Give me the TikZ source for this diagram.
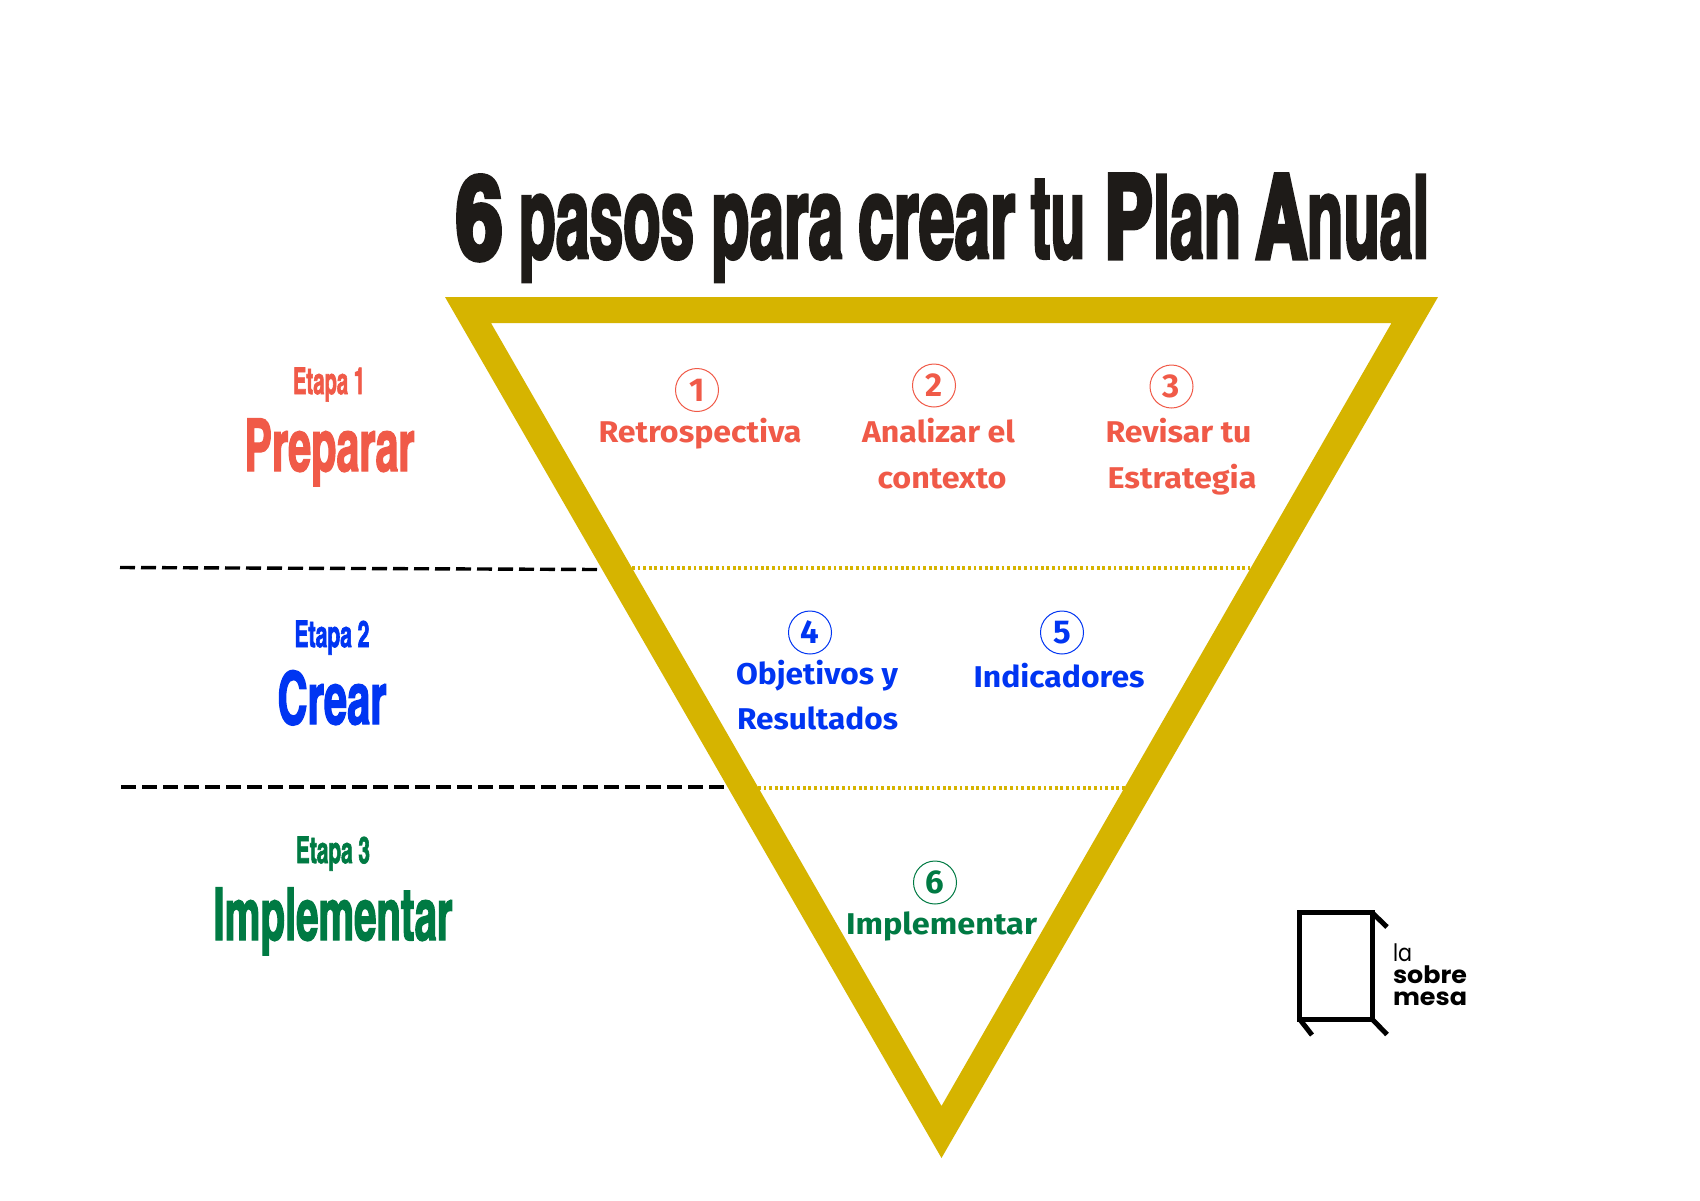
\documentclass[tikz,border=0pt]{standalone}
\usepackage{graphicx}
\usepackage{fontspec}
\setmainfont{Liberation Sans}
\newfontfamily\cond[FakeStretch=0.8,FakeBold=1.8]{TeX Gyre Heros Cn Bold}
\newfontfamily\condt[FakeStretch=0.8,FakeBold=2.4]{TeX Gyre Heros Cn Bold}
\newfontfamily\condx[FakeStretch=0.95,FakeBold=4.5]{TeX Gyre Heros Cn Bold}
\newfontfamily\body{Fira Sans}[BoldFont={Fira Sans Bold}]
\newfontfamily\logof{Poppins}
\definecolor{gold}{HTML}{D6B400}
\definecolor{redc}{HTML}{F05A48}
\definecolor{bluec}{HTML}{0035F2}
\definecolor{greenc}{HTML}{007A43}
\definecolor{inkc}{HTML}{1E1B18}
\newsavebox\fb
\newcommand\fitx[2]{\sbox\fb{#2}\pgfmathsetmacro\fr{#1pt/\the\wd\fb}\scalebox{\fr}[1]{\usebox\fb}}
\tikzset{
 lbl/.style={anchor=base,inner sep=0pt,outer sep=0pt},
 num/.style={circle,draw,line width=1pt,minimum size=43pt,inner sep=0pt,font=\body\bfseries\fontsize{33}{33}\selectfont},
 step label/.style={lbl,font=\body\bfseries\fontsize{30}{30}\selectfont},
 etapa/.style={lbl,font=\cond\fontsize{37}{37}\selectfont},
 stage/.style={lbl,font=\cond\fontsize{73}{73}\selectfont},
 divider/.style={black,line width=3.4pt,dash pattern=on 15pt off 6pt},
 dots/.style={gold,line width=3.2pt,dash pattern=on 2.8pt off 2.8pt},
 logoline/.style={black,line width=5pt,line join=miter},
}
\begin{document}
\begin{tikzpicture}[x=1pt,y=-1pt]
\useasboundingbox (0,0) rectangle (1700,1200);
\fill[white] (0,0) rectangle (1700,1200);
% title
\node[lbl,anchor=base west,text=inkc,font=\condt\fontsize{116}{116}\selectfont] (title) at (456,258) {\fitx{46.6}{{\condx 6}}\hspace{16pt}\fitx{175.5}{pasos}\hspace{17pt}\fitx{132}{para}\hspace{15pt}\fitx{157}{crear}\hspace{16pt}\fitx{54}{tu}\hspace{19.5pt}\fitx{136.5}{{\condx P}lan}\hspace{15pt}\fitx{173}{{\condx A}nual}};
% triangle
\fill[gold,even odd rule] (445,297) -- (1438,297) -- (941.5,1158) -- cycle (491,323) -- (941.5,1106) -- (1391.5,323) -- cycle;
% dividers
\coordinate (d1a) at (120,567.5); \coordinate (d1b) at (599,569.5);
\coordinate (d2a) at (121,787); \coordinate (d2b) at (727,787);
\coordinate (e1a) at (632,568); \coordinate (e1b) at (1250,568);
\coordinate (e2a) at (758,788); \coordinate (e2b) at (1128,788);
\draw[divider] (d1a) -- (d1b);
\draw[divider] (d2a) -- (d2b);
\draw[dots] (e1a) -- (e1b);
\draw[dots] (e2a) -- (e2b);
% stages
\node[etapa,text=redc] (et1) at (329,394) {\fitx{72}{Etapa 1}};
\node[stage,text=redc] (st1) at (329.5,471) {\fitx{170}{Preparar}};
\node[etapa,text=bluec] (et2) at (332,647) {\fitx{75}{Etapa 2}};
\node[stage,text=bluec] (st2) at (332,724) {\fitx{109}{Crear}};
\node[etapa,text=greenc] (et3) at (333,863) {\fitx{74}{Etapa 3}};
\node[stage,text=greenc] (st3) at (333,940) {\fitx{239}{Implementar}};
% circles
\node[num,draw=redc,text=redc] (n1) at (697,390) {1};
\node[num,draw=redc,text=redc] (n2) at (934,385.5) {2};
\node[num,draw=redc,text=redc] (n3) at (1171.5,386.5) {3};
\node[num,draw=bluec,text=bluec] (n4) at (810,632.5) {4};
\node[num,draw=bluec,text=bluec] (n5) at (1062,632.5) {5};
\node[num,draw=greenc,text=greenc] (n6) at (935,882.5) {6};
% step labels
\node[step label,text=redc] (l1) at (700,442) {\fitx{203}{Retrospectiva}};
\node[step label,text=redc] (l2) at (938.5,442) {\fitx{153}{Analizar el}};
\node[step label,text=redc] (l2b) at (942,488.5) {\fitx{129}{contexto}};
\node[step label,text=redc] (l3) at (1178.5,442) {\fitx{146}{Revisar tu}};
\node[step label,text=redc] (l3b) at (1182,488.5) {\fitx{149}{Estrategia}};
\node[step label,text=bluec] (l4) at (817,684) {\fitx{162}{Objetivos y}};
\node[step label,text=bluec] (l4b) at (817.5,729) {\fitx{161}{Resultados}};
\node[step label,text=bluec] (l5) at (1059,687) {\fitx{171}{Indicadores}};
\node[step label,text=greenc] (l6) at (941.5,934) {\fitx{191}{Implementar}};
% logo
\draw[logoline] (1299.5,1019) rectangle (1372,912.5);
\draw[logoline] (1372,912.5) -- (1387,927);
\draw[logoline] (1372,1019) -- (1387,1034.5);
\draw[logoline] (1299.5,1019) -- (1312,1035);
\node[lbl,anchor=base west,font=\logof\fontsize{24}{24}\selectfont] (la) at (1393,961) {\fitx{19}{la}};
\node[lbl,anchor=base west,font=\logof\bfseries\fontsize{24}{24}\selectfont] (so) at (1393,983.5) {\fitx{74}{sobre}};
\node[lbl,anchor=base west,font=\logof\bfseries\fontsize{24}{24}\selectfont] (me) at (1393,1005) {\fitx{74}{mesa}};
\end{tikzpicture}
\end{document}
